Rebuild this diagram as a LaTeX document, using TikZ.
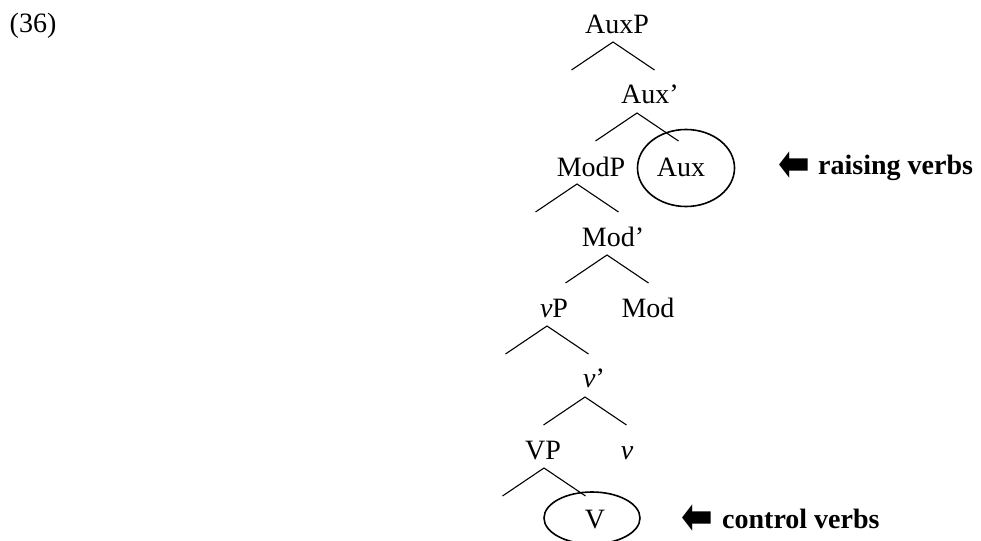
\documentclass[tikz,border=0pt]{standalone}
\usepackage{fontspec}
\setmainfont{Liberation Serif}
\newfontfamily\symfont{DejaVu Sans}
\usetikzlibrary{shapes.geometric}

\tikzset{
  cat/.style={anchor=base, inner sep=0pt, font=\fontsize{28}{34}\selectfont},
  note/.style={anchor=base west, inner sep=0pt, font=\fontsize{28}{34}\selectfont\bfseries},
  pointer/.style={anchor=center, inner sep=0pt, font=\fontsize{38}{44}\symfont\bfseries},
  ring/.style={draw, ellipse, line width=1.6pt, inner sep=0pt},
  branch/.style={line width=1.1pt}
}

\begin{document}
\begin{tikzpicture}[x=1pt,y=-1pt]
  \useasboundingbox (0,0) rectangle (981,540);

  % example number
  \node[cat] (num) at (33,33) {(36)};

  % categories
  \node[cat] (auxp)   at (617,34)  {AuxP};
  \node[cat] (auxbar) at (650,104) {Aux’};
  \node[cat] (modp)   at (591,176) {ModP};
  \node[cat] (aux)    at (681,176) {Aux};
  \node[cat] (modbar) at (613,246) {Mod’};
  \node[cat] (litvp)  at (554,317) {\textit{v}P};
  \node[cat] (mod)    at (648,317) {Mod};
  \node[cat] (litvbar) at (594,387) {\textit{v}’};
  \node[cat] (vp)     at (543,459) {VP};
  \node[cat] (litv)   at (627,459) {\textit{v}};
  \node[cat] (verb)   at (595,528) {V};

  % circled heads
  \node[ring, minimum width=97, minimum height=77] (auxring)  at (686,168) {};
  \node[ring, minimum width=96, minimum height=52] (verbring) at (592,518) {};

  % branches
  \foreach \n/\x/\y in {auxp/613/42, auxbar/637/113, modp/577/184, modbar/607/255,
                        litvp/547/326, litvbar/585/397, vp/544/468} {
    \coordinate (\n-top) at (\x,\y);
    \coordinate (\n-l) at (\x-41.5,\y+28);
    \coordinate (\n-r) at (\x+41.5,\y+28);
    \draw[branch] (\n-l) -- (\n-top) -- (\n-r);
  }

  % annotations
  \node[pointer, yscale=1.3, transform shape] (raisearrow) at (794,166.5) {⬅};
  \node[note] (raisetext) at (818,175) {raising verbs};
  \node[pointer, yscale=1.3, transform shape] (ctrlarrow) at (697.5,519) {⬅};
  \node[note] (ctrltext) at (722,528) {control verbs};

\end{tikzpicture}
\end{document}
